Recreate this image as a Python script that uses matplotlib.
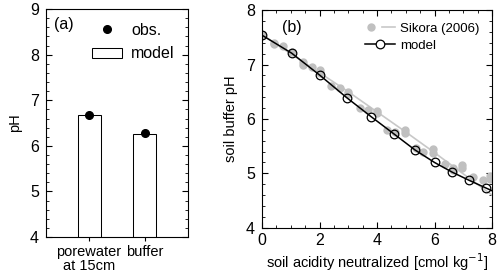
import matplotlib
matplotlib.use('Agg')
import matplotlib.pyplot as plt
from matplotlib.ticker import MultipleLocator
from matplotlib.legend_handler import HandlerTuple
from matplotlib.patches import Rectangle
from matplotlib.lines import Line2D

plt.rcParams['font.family'] = ['Liberation Sans', 'DejaVu Sans']
plt.rcParams['font.size'] = 10.5
plt.rcParams['xtick.labelsize'] = 11.5
plt.rcParams['ytick.labelsize'] = 11.5

# panel (a)
categories = ['porewater\nat 15cm', 'buffer']
model_ph = [6.68, 6.27]
obs_ph = [6.68, 6.28]

# panel (b) model run
model_x = [0.0, 1.03, 2.02, 2.95, 3.8, 4.6, 5.32, 6.0, 6.62, 7.21, 7.79, 8.0]
model_y = [7.54, 7.21, 6.80, 6.39, 6.04, 5.72, 5.43, 5.20, 5.02, 4.87, 4.73, 4.68]

# Sikora (2006) measurements
sik_x = [0.0, 0.42, 0.42, 0.74, 1.05, 1.44, 1.44, 1.73, 2.02, 2.02, 2.4, 2.71,
         3.0, 3.0, 3.41, 3.7, 3.99, 3.99, 4.34, 4.63, 4.97, 4.97, 5.35, 5.6,
         5.96, 5.96, 6.37, 6.66, 6.66, 6.95, 6.95, 7.35, 7.68, 7.93, 7.93]
sik_y = [7.55, 7.37, 7.40, 7.35, 7.24, 7.00, 7.05, 6.96, 6.90, 6.85, 6.60, 6.57,
         6.50, 6.46, 6.20, 6.17, 6.14, 6.10, 5.80, 5.76, 5.80, 5.74, 5.47, 5.40,
         5.45, 5.38, 5.17, 5.10, 5.06, 5.15, 5.10, 4.93, 4.88, 4.95, 4.90]
# Sikora buffer curve
fit_x = [0, 1, 2, 3, 4, 5, 6, 7, 8]
fit_y = [7.55, 7.20, 6.85, 6.50, 6.13, 5.76, 5.38, 4.99, 4.60]

fig = plt.figure(figsize=(5, 2.75), dpi=100)

ax1 = fig.add_axes([0.092, 0.138, 0.284, 0.829])
pos = [1, 2]
ax1.bar(pos, model_ph, width=0.41, color='white', edgecolor='black', linewidth=0.75)
ax1.plot(pos, obs_ph, 'o', color='black', markersize=5.5, linestyle='none')
ax1.set_xlim(0.23, 2.77)
ax1.set_ylim(4, 9)
ax1.set_xticks(pos)
ax1.set_xticklabels(categories, linespacing=1.0, fontsize=10.5)
ax1.set_ylabel('pH', labelpad=6)
ax1.yaxis.set_minor_locator(MultipleLocator(0.2))
ax1.tick_params(axis='y', which='both', direction='in', left=True, right=True, pad=5)
ax1.tick_params(axis='y', which='major', length=4)
ax1.tick_params(axis='y', which='minor', length=2)
ax1.tick_params(axis='x', direction='out', length=3, pad=3)
ax1.text(0.056, 0.965, '(a)', transform=ax1.transAxes, va='top', ha='left', fontsize=11.5)
h_obs = Line2D([], [], marker='o', color='black', linestyle='none', markersize=5.5)
h_mod = Rectangle((0, 0), 1, 1, facecolor='white', edgecolor='black', linewidth=0.75)
ax1.legend([h_obs, h_mod], ['obs.', 'model'], loc='upper right', frameon=False,
           handlelength=1.9, handleheight=0.6, handletextpad=0.55,
           borderaxespad=0.55, borderpad=0.3, labelspacing=0.55, fontsize=11.5)

ax2 = fig.add_axes([0.524, 0.172, 0.46, 0.791])
l_fit, = ax2.plot(fit_x, fit_y, color='#c8c8c8', linewidth=1.2)
d_sik, = ax2.plot(sik_x, sik_y, 'o', color='#c0c0c0', markersize=5, linestyle='none')
l_mod, = ax2.plot(model_x, model_y, color='black', linewidth=1.1, marker='o',
                  markerfacecolor='none', markeredgecolor='black', markersize=6.2,
                  markeredgewidth=0.9, markevery=list(range(len(model_x) - 1)))
ax2.set_xlim(0, 8)
ax2.set_ylim(4, 8)
ax2.set_xticks([0, 2, 4, 6, 8])
ax2.set_yticks([4, 5, 6, 7, 8])
ax2.xaxis.set_minor_locator(MultipleLocator(0.5))
ax2.yaxis.set_minor_locator(MultipleLocator(0.2))
ax2.tick_params(which='both', direction='in', top=True, right=True)
ax2.tick_params(axis='y', which='both', pad=5)
ax2.tick_params(which='major', length=4)
ax2.tick_params(which='minor', length=2)
ax2.set_xlabel('soil acidity neutralized [cmol kg$^{-1}$]', labelpad=3)
ax2.set_ylabel('soil buffer pH', labelpad=6)
ax2.text(0.087, 0.955, '(b)', transform=ax2.transAxes, va='top', ha='left', fontsize=11.5)
h_mod2 = Line2D([], [], color='black', linewidth=1.1, marker='o', markerfacecolor='white',
                markeredgecolor='black', markersize=6.2, markeredgewidth=0.9)
ax2.legend([(d_sik, l_fit), h_mod2], ['Sikora (2006)', 'model'], loc='upper right',
           frameon=False, handler_map={tuple: HandlerTuple(ndivide=None, pad=0.4)},
           handlelength=2.27, handletextpad=0.4, borderaxespad=0.75, borderpad=0.2,
           labelspacing=0.35, fontsize=9.5)

fig.savefig('out.png', dpi=100)
